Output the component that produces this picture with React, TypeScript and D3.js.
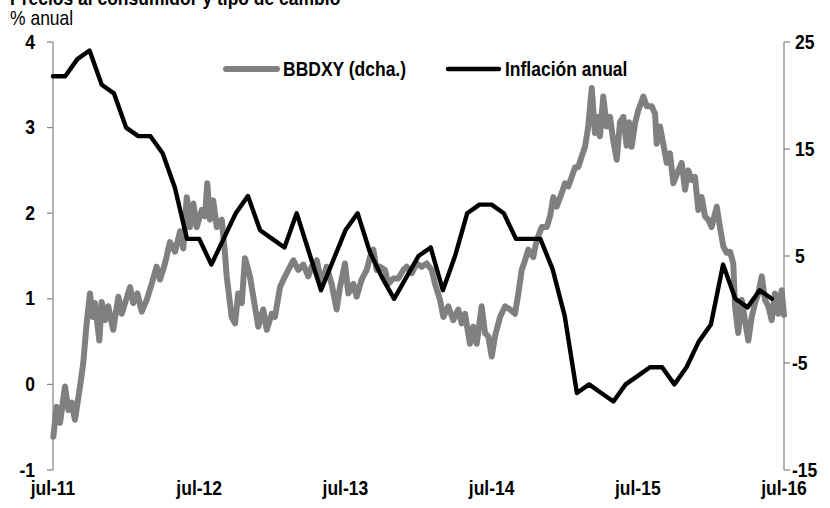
import React from "react";
import * as d3 from "d3";

// ---- Data ----
const inflationStart = 2011.5; // jul-11, monthly observations
const inflation = [
  3.6, 3.6, 3.8, 3.9, 3.5, 3.4, 3.0, 2.9, 2.9, 2.7, 2.3, 1.7,
  1.7, 1.4, 1.7, 2.0, 2.2, 1.8, 1.7, 1.6, 2.0, 1.55, 1.1, 1.45,
  1.8, 2.0, 1.55, 1.25, 1.0, 1.25, 1.5, 1.6, 1.1, 1.5, 2.0, 2.1,
  2.1, 2.0, 1.7, 1.7, 1.7, 1.35, 0.8, -0.1, 0.0, -0.1, -0.2, 0.0,
  0.1, 0.2, 0.2, 0.0, 0.2, 0.5, 0.7, 1.4, 1.0, 0.9, 1.1, 1.0,
];

const bbdxyDates = [
  2011.502, 2011.525, 2011.548, 2011.582, 2011.605, 2011.628, 2011.65, 2011.685, 2011.707, 2011.73,
  2011.753, 2011.772, 2011.787, 2011.817, 2011.833, 2011.856, 2011.878, 2011.912, 2011.947, 2011.97,
  2012.027, 2012.049, 2012.077, 2012.107, 2012.141, 2012.175, 2012.209, 2012.232, 2012.266, 2012.3,
  2012.335, 2012.369, 2012.391, 2012.415, 2012.437, 2012.46, 2012.483, 2012.517, 2012.54, 2012.555,
  2012.574, 2012.596, 2012.62, 2012.654, 2012.676, 2012.688, 2012.722, 2012.745, 2012.767, 2012.791,
  2012.813, 2012.847, 2012.87, 2012.904, 2012.938, 2012.962, 2012.996, 2013.018, 2013.053, 2013.087,
  2013.121, 2013.144, 2013.178, 2013.212, 2013.246, 2013.269, 2013.304, 2013.338, 2013.372, 2013.406,
  2013.44, 2013.463, 2013.497, 2013.52, 2013.554, 2013.577, 2013.611, 2013.646, 2013.668, 2013.691,
  2013.714, 2013.737, 2013.771, 2013.793, 2013.828, 2013.862, 2013.896, 2013.919, 2013.954, 2013.988,
  2014.022, 2014.056, 2014.09, 2014.113, 2014.147, 2014.17, 2014.204, 2014.238, 2014.272, 2014.296,
  2014.318, 2014.352, 2014.375, 2014.398, 2014.432, 2014.455, 2014.477, 2014.501, 2014.523, 2014.558,
  2014.592, 2014.626, 2014.66, 2014.683, 2014.706, 2014.729, 2014.751, 2014.785, 2014.809, 2014.843,
  2014.877, 2014.9, 2014.922, 2014.945, 2014.98, 2015.002, 2015.025, 2015.048, 2015.071, 2015.093,
  2015.116, 2015.139, 2015.161, 2015.185, 2015.207, 2015.23, 2015.241, 2015.264, 2015.287, 2015.31,
  2015.332, 2015.356, 2015.378, 2015.401, 2015.424, 2015.44, 2015.458, 2015.481, 2015.503, 2015.538,
  2015.561, 2015.595, 2015.618, 2015.629, 2015.652, 2015.674, 2015.698, 2015.72, 2015.743, 2015.777,
  2015.8, 2015.823, 2015.845, 2015.869, 2015.891, 2015.914, 2015.937, 2015.96, 2015.982, 2016.005,
  2016.04, 2016.062, 2016.085, 2016.108, 2016.131, 2016.153, 2016.165, 2016.187, 2016.211, 2016.233,
  2016.256, 2016.279, 2016.302, 2016.324, 2016.348, 2016.37, 2016.393, 2016.416, 2016.438, 2016.461,
  2016.484, 2016.5,
];
const bbdxy = [
  -11.9, -9.1, -10.6, -7.2, -9.4, -8.7, -10.3, -7.2, -5.0, -1.3,
  1.5, -0.7, 0.6, -2.9, 0.7, -1.0, 0.3, -1.9, 1.2, -0.4,
  2.1, 0.6, 1.5, -0.2, 0.9, 2.4, 4.0, 2.8, 4.3, 6.3,
  5.4, 7.3, 5.7, 10.5, 7.7, 9.9, 7.7, 9.3, 8.7, 11.8,
  8.4, 10.2, 7.7, 8.4, 5.3, 3.1, -0.7, -1.3, 1.5, 0.6,
  4.8, 3.1, 1.2, -1.6, 0.0, -1.9, -0.4, -0.7, 2.1, 3.1,
  4.0, 4.6, 3.7, 4.2, 3.1, 4.0, 4.6, 2.4, 4.0, 2.4,
  0.0, 2.1, 4.3, 1.5, 2.4, 1.2, 2.8, 3.7, 4.9, 5.6,
  3.7, 4.0, 3.7, 2.4, 2.9, 2.9, 3.7, 4.0, 3.4, 4.3,
  4.0, 4.3, 3.7, 2.4, 0.9, -0.7, 0.3, -1.0, 0.0, -1.3,
  -0.4, -3.2, -1.6, -3.2, 0.3, -2.2, -2.5, -4.4, -2.5, -0.7,
  0.3, 0.0, -0.4, 1.5, 3.7, 4.6, 5.6, 4.9, 6.5, 7.7,
  7.7, 8.7, 10.5, 9.6, 10.9, 11.8, 11.5, 12.4, 13.3, 13.3,
  14.3, 15.2, 17.1, 20.7, 16.5, 18.0, 16.2, 19.9, 17.1, 18.0,
  15.8, 14.0, 17.5, 18.0, 15.3, 17.5, 15.2, 17.4, 18.6, 19.9,
  19.0, 19.0, 18.3, 15.5, 17.1, 15.5, 13.7, 14.6, 11.8, 13.0,
  13.7, 11.2, 13.0, 12.1, 12.4, 9.3, 10.5, 8.7, 8.4, 7.7,
  9.6, 7.7, 5.9, 5.3, 5.4, 4.3, 0.3, -2.2, 0.9, -1.0,
  -2.9, -0.7, 0.6, 1.5, 3.1, 0.9, 0.3, -1.0, 1.5, -0.4,
  1.8, -0.5,
];

const xTicks = [2011.5, 2012.5, 2013.5, 2014.5, 2015.5, 2016.5];
const xTickLabels = ["jul-11", "jul-12", "jul-13", "jul-14", "jul-15", "jul-16"];
const leftTicks = [-1, 0, 1, 2, 3, 4];
const rightTicks = [-15, -5, 5, 15, 25];

const title = "Precios al consumidor y tipo de cambio";
const unitLabel = "% anual";
const seriesNames = ["BBDXY (dcha.)", "Inflación anual"];
const colors = { bbdxy: "#808080", inflation: "#000000", axis: "#8c8c8c" };

// ---- Layout ----
const W = 830;
const H = 508;
const left = 53;
const right = 784;
const top = 42;
const bottom = 470;
const FONT = "'Liberation Sans', Arial, Helvetica, sans-serif";
const FS = 17.5;
const STRETCH = 1.12;

function T({ x, y, anchor = "start", weight = "bold", children }: any) {
  return (
    <text
      transform={`translate(${x},${y}) scale(1,${STRETCH})`}
      textAnchor={anchor}
      fontFamily={FONT}
      fontSize={FS}
      fontWeight={weight}
      fill="#000"
    >
      {children}
    </text>
  );
}

export default function App() {
  const x = d3.scaleLinear().domain([2011.5, 2016.5]).range([left, right]);
  const yL = d3.scaleLinear().domain([-1, 4]).range([bottom, top]);
  const yR = d3.scaleLinear().domain([-15, 25]).range([bottom, top]);

  const infPts = inflation.map((v, i) => [inflationStart + i / 12, v] as [number, number]);
  const bbPts = bbdxy.map((v, i) => [bbdxyDates[i], v] as [number, number]);

  const lineL = d3.line<[number, number]>().x((d) => x(d[0])).y((d) => yL(d[1]));
  const lineR = d3.line<[number, number]>().x((d) => x(d[0])).y((d) => yR(d[1]));

  return (
    <svg
      width={W}
      height={H}
      style={{ position: "fixed", left: 0, top: 0, background: "#fff" }}
    >
      <rect x={0} y={0} width={W} height={H} fill="#fff" />
      <T x={10} y={4.5}>{title}</T>
      <T x={10} y={24.5} weight="normal">{unitLabel}</T>

      {/* left axis */}
      <line x1={left} x2={left} y1={top} y2={bottom} stroke={colors.axis} strokeWidth={1.3} />
      {leftTicks.map((t) => (
        <g key={"l" + t}>
          <line x1={left - 6} x2={left} y1={yL(t)} y2={yL(t)} stroke={colors.axis} strokeWidth={1.3} />
          <T x={35} y={yL(t) + 6.5} anchor="end">{String(t)}</T>
        </g>
      ))}

      {/* right axis */}
      <line x1={right} x2={right} y1={top} y2={bottom} stroke={colors.axis} strokeWidth={1.3} />
      {rightTicks.map((t) => (
        <g key={"r" + t}>
          <line x1={right} x2={right + 6} y1={yR(t)} y2={yR(t)} stroke={colors.axis} strokeWidth={1.3} />
          <T x={t < 0 ? 792 : 795} y={yR(t) + 6.5}>{String(t)}</T>
        </g>
      ))}

      {/* x labels */}
      {xTicks.map((t, i) => (
        <T key={"x" + t} x={x(t)} y={495} anchor="middle">{xTickLabels[i]}</T>
      ))}

      {/* series */}
      <path
        d={lineR(bbPts) || ""}
        fill="none"
        stroke={colors.bbdxy}
        strokeWidth={6}
        strokeLinejoin="round"
        strokeLinecap="round"
      />
      <path
        d={lineL(infPts) || ""}
        fill="none"
        stroke={colors.inflation}
        strokeWidth={4.4}
        strokeLinejoin="round"
        strokeLinecap="round"
      />

      {/* legend */}
      <line x1={226} x2={277} y1={69} y2={69} stroke={colors.bbdxy} strokeWidth={6} strokeLinecap="round" />
      <T x={283} y={75.5}>{seriesNames[0]}</T>
      <line x1={448} x2={499} y1={69} y2={69} stroke={colors.inflation} strokeWidth={4.4} strokeLinecap="round" />
      <T x={505} y={75.5}>{seriesNames[1]}</T>
    </svg>
  );
}
